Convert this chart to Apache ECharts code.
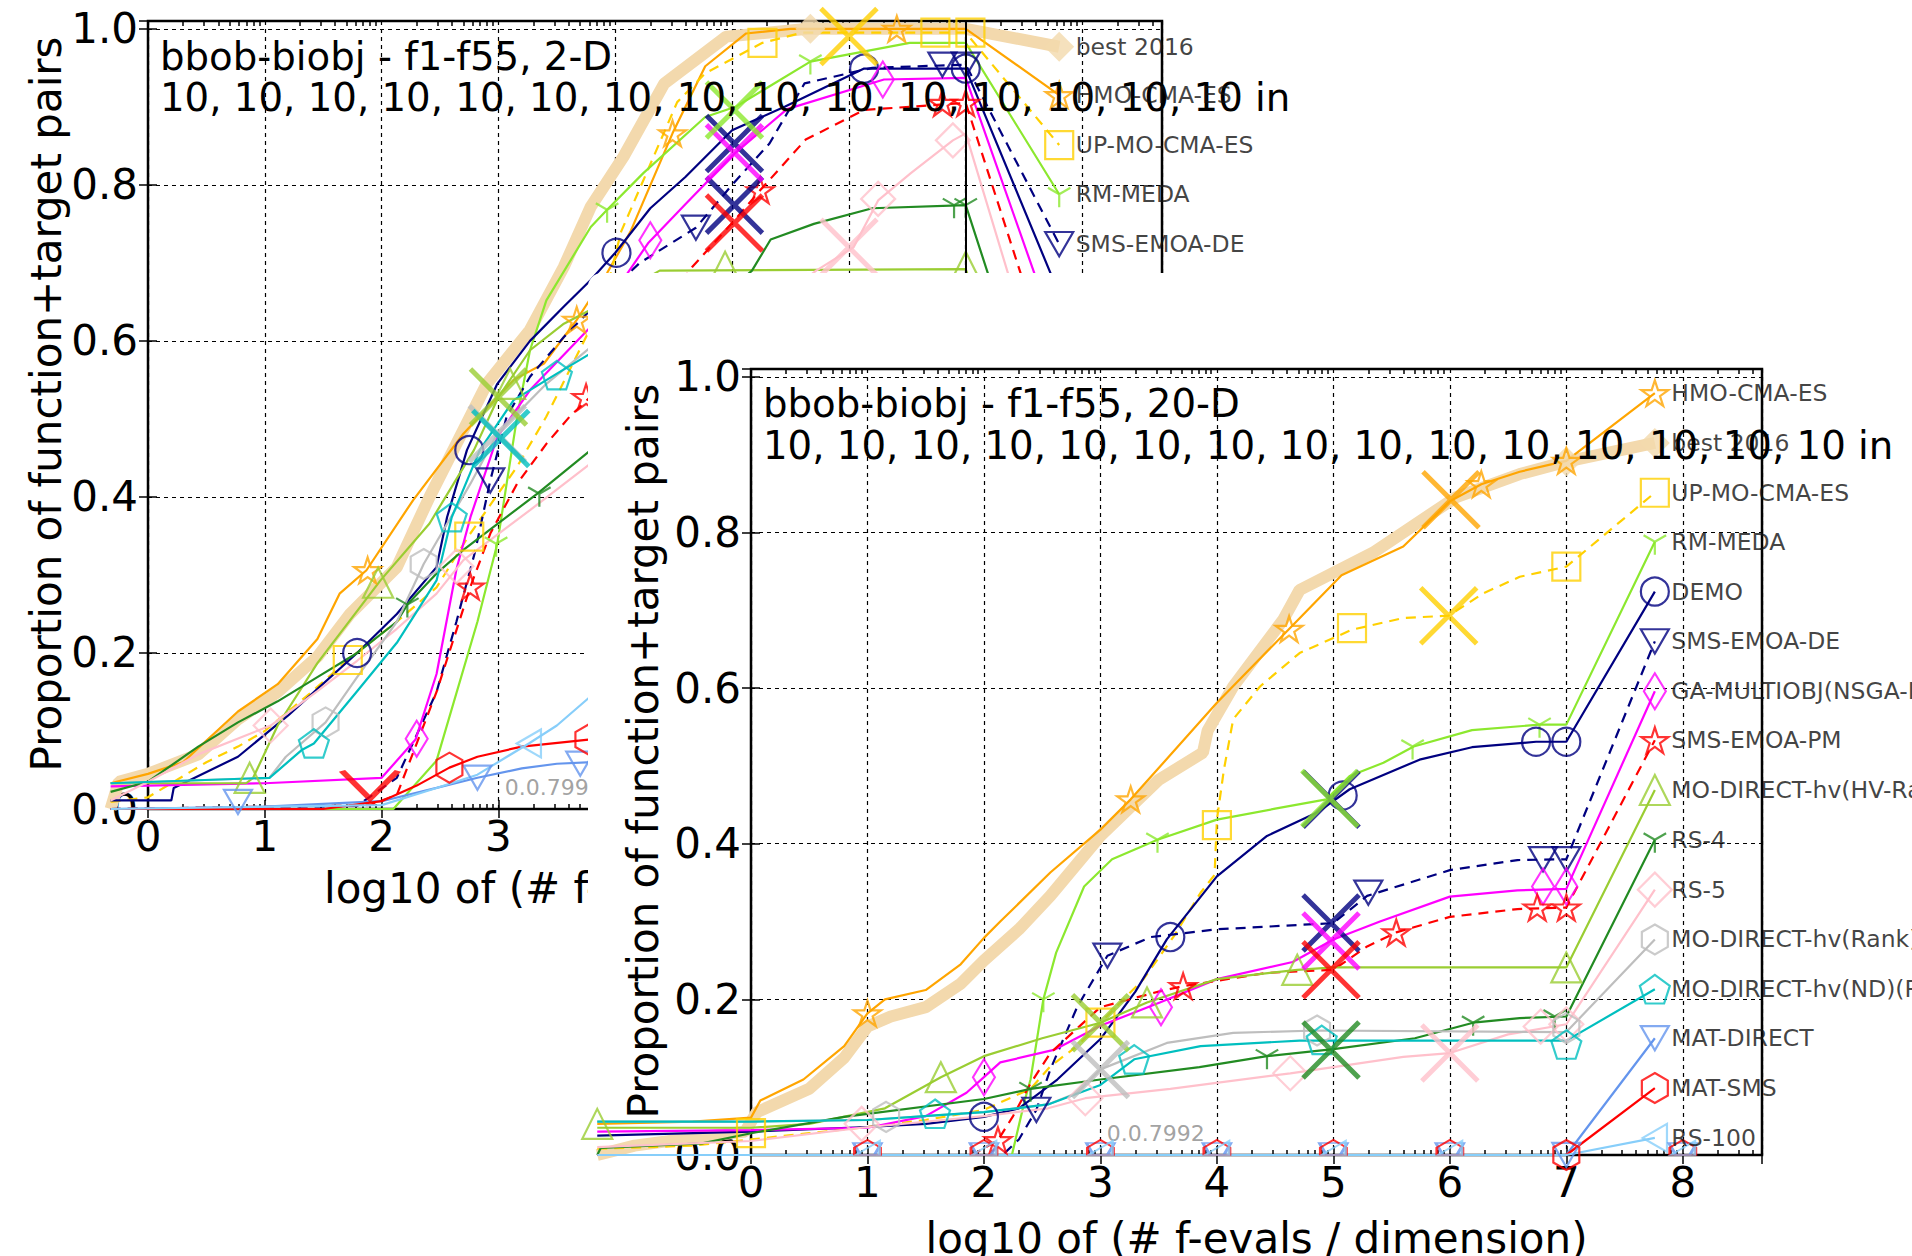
<!DOCTYPE html>
<html>
<head>
<meta charset="utf-8">
<title>bbob-biobj ECDF</title>
<script src="https://cdn.jsdelivr.net/npm/echarts@6.0.0/dist/echarts.min.js"></script>
<style>
  html, body { margin: 0; padding: 0; background: #fff; }
  #chart { width: 1912px; height: 1256px; }
</style>
</head>
<body>
<div id="chart"></div>
<script>
// legend / style order
const algoNames = ['best 2016', 'HMO-CMA-ES', 'UP-MO-CMA-ES', 'RM-MEDA', 'DEMO', 'SMS-EMOA-DE',
  'GA-MULTIOBJ(NSGA-II)', 'SMS-EMOA-PM', 'MO-DIRECT-hv(HV-Rank)', 'RS-4', 'RS-5',
  'MO-DIRECT-hv(Rank)', 'MO-DIRECT-hv(ND)(Rank)', 'MAT-DIRECT', 'MAT-SMS', 'RS-100'];

const title2D = 'bbob-biobj - f1-f55, 2-D';
const title20D = 'bbob-biobj - f1-f55, 20-D';
const countsText = '10, 10, 10, 10, 10, 10, 10, 10, 10, 10, 10, 10, 10, 10, 10 in';
const versionText = '0.0.7992';
const xTicks = [0, 1, 2, 3, 4, 5, 6, 7, 8];
const yTicks = [0, 0.2, 0.4, 0.6, 0.8, 1.0];
// log10(2..9): minor tick offsets inside each decade
const minorTickOffsets = [0.301, 0.477, 0.602, 0.699, 0.778, 0.845, 0.903, 0.954];

// ---------- 20-D : [log10(evals/dim), proportion] ----------
const best20 = [[-1.32,0.0],[-1.0,0.012],[-0.5,0.022],[-0.05,0.03],[0.05,0.055],[0.5,0.085],[0.8,0.125],[1.0,0.165],[1.2,0.178],[1.5,0.19],[1.8,0.22],[2.0,0.25],[2.3,0.29],[2.57,0.333],[3.0,0.41],[3.5,0.482],[3.88,0.517],[3.92,0.545],[4.14,0.602],[4.57,0.688],[4.71,0.726],[5.34,0.774],[6.05,0.845],[6.6,0.875],[7.0,0.891]];
const hmo20 = [[-1.32,0.04],[-0.5,0.043],[0,0.048],[0.08,0.07],[0.45,0.097],[0.8,0.14],[1.0,0.182],[1.15,0.2],[1.5,0.212],[1.8,0.245],[2.0,0.279],[2.14,0.3],[2.57,0.363],[3.0,0.418],[3.26,0.457],[4.0,0.581],[4.62,0.676],[5.07,0.745],[5.6,0.782],[6.0,0.84],[6.27,0.862],[6.6,0.878],[7.0,0.892]];
const upmo20 = [[-1.32,0.008],[-0.5,0.012],[0,0.02],[0.5,0.028],[1.0,0.036],[1.5,0.045],[2.0,0.058],[2.4,0.085],[2.57,0.114],[2.8,0.14],[3.0,0.17],[3.37,0.226],[3.63,0.281],[3.86,0.337],[3.98,0.36],[4.0,0.431],[4.06,0.495],[4.14,0.56],[4.37,0.602],[4.71,0.645],[5.16,0.675],[5.6,0.69],[5.99,0.693],[6.29,0.722],[6.6,0.743],[7.0,0.756]];
const rmmeda20 = [[-1.32,0.0],[2.24,0.0],[2.35,0.07],[2.4,0.097],[2.51,0.2],[2.62,0.26],[2.86,0.345],[3.1,0.38],[3.49,0.405],[4.0,0.431],[4.5,0.445],[4.94,0.457],[5.14,0.487],[5.43,0.504],[5.69,0.525],[6.19,0.546],[6.77,0.553],[7.0,0.553]];
const demo20 = [[-1.32,0.025],[0,0.03],[1.0,0.036],[1.5,0.04],[2.0,0.049],[2.3,0.06],[2.63,0.097],[3.0,0.149],[3.3,0.21],[3.57,0.277],[4.0,0.358],[4.43,0.41],[4.86,0.44],[5.14,0.47],[5.74,0.508],[6.19,0.524],[6.74,0.531],[7.0,0.531]];
const smsde20 = [[-1.32,0.0],[2.16,0.0],[2.3,0.02],[2.45,0.058],[2.57,0.11],[2.8,0.19],[3.06,0.256],[3.43,0.28],[4.0,0.29],[5.0,0.298],[5.29,0.333],[5.74,0.354],[6.0,0.366],[6.58,0.379],[7.0,0.38]];
const ga20 = [[-1.32,0.03],[0,0.032],[1.0,0.035],[1.5,0.05],[1.85,0.08],[2.0,0.1],[2.14,0.119],[2.6,0.135],[3.0,0.166],[3.51,0.196],[4.0,0.226],[4.65,0.248],[5.0,0.277],[5.4,0.3],[6.0,0.332],[6.58,0.34],[7.0,0.342]];
const smspm20 = [[-1.32,0.0],[1.9,0.0],[2.12,0.019],[2.25,0.05],[2.4,0.092],[2.57,0.131],[3.0,0.19],[3.5,0.21],[3.71,0.217],[4.43,0.234],[5.0,0.238],[5.29,0.268],[5.54,0.286],[6.0,0.306],[6.58,0.316],[7.0,0.318]];
const mohv20 = [[-1.32,0.035],[0,0.035],[0.5,0.04],[1.15,0.06],[1.63,0.1],[2.0,0.127],[2.5,0.15],[3.0,0.17],[3.4,0.196],[4.0,0.226],[4.69,0.238],[5.0,0.241],[7.0,0.241]];
const rs4_20 = [[-1.32,0.0],[-1.29,0.009],[-0.42,0.015],[0,0.028],[0.8,0.049],[2.0,0.072],[2.4,0.085],[3.0,0.097],[3.85,0.113],[4.43,0.127],[5.0,0.136],[5.7,0.15],[6.2,0.17],[6.6,0.176],[7.0,0.178]];
const rs5_20 = [[-1.32,0.01],[0,0.018],[0.95,0.035],[2.0,0.05],[2.55,0.06],[2.87,0.073],[3.6,0.085],[4.63,0.105],[5.0,0.113],[5.6,0.126],[6.0,0.131],[6.5,0.155],[7.0,0.168]];
const rank20 = [[-1.32,0.043],[0,0.043],[1.0,0.045],[2.0,0.055],[2.55,0.065],[2.8,0.08],[3.0,0.11],[3.57,0.144],[4.14,0.157],[4.86,0.16],[7.0,0.158]];
const nd20 = [[-1.32,0.043],[0,0.043],[1.0,0.045],[1.58,0.051],[2.0,0.055],[2.55,0.065],[3.0,0.09],[3.29,0.123],[3.86,0.14],[4.71,0.147],[7.0,0.147]];
const matdir20 = [[-1.32,0.0],[7.0,0.0]];
const matsms20 = [[-1.32,0.0],[7.0,0.0]];
const rs100_20 = [[-1.32,0.0],[7.0,0.0]];

// markers on the 20-D curves
const best20Mk = [[7.0,0.891]];
const hmo20Mk = [[1.0,0.182],[3.26,0.457],[4.62,0.676],[6.27,0.862],[7.0,0.892]];
const upmo20Mk = [[0.0,0.028],[3.0,0.17],[4.0,0.424],[5.16,0.677],[7.0,0.756]];
const rmmeda20Mk = [[2.51,0.2],[3.49,0.405],[5.68,0.525],[6.77,0.553]];
const demo20Mk = [[2.0,0.049],[3.6,0.28],[5.08,0.462],[6.74,0.531],[7.0,0.531]];
const smsde20Mk = [[2.45,0.058],[3.06,0.256],[5.3,0.337],[6.8,0.38],[7.0,0.38]];
const ga20Mk = [[2.0,0.1],[3.52,0.19],[6.8,0.345],[7.0,0.345]];
const smspm20Mk = [[2.12,0.019],[3.71,0.217],[5.54,0.286],[6.75,0.318],[7.0,0.318]];
const mohv20Mk = [[-1.32,0.04],[1.63,0.1],[3.4,0.196],[4.69,0.238],[7.0,0.241]];
const rs4_20Mk = [[2.4,0.085],[4.43,0.127],[6.2,0.17],[6.9,0.178]];
const rs5_20Mk = [[0.95,0.04],[2.87,0.073],[4.63,0.105],[6.78,0.165],[7.0,0.168]];
const rank20Mk = [[1.16,0.049],[4.86,0.16],[7.0,0.163]];
const nd20Mk = [[1.58,0.053],[3.29,0.123],[4.9,0.148],[7.0,0.142]];
const matdir20Mk = [[7.0,0.0]];
const matsms20Mk = [[7.0,0.0]];
const rs100_20Mk = [];
// markers sitting on the bottom frame (only their upper half shows)
const bottom20Mk = [[1,0],[2,0],[3,0],[4,0],[5,0],[6,0],[8,0]];

// big crosses: [x, y, algorithm index]
const cross20 = [[6.01,0.842,1],[5.99,0.693,2],[4.98,0.457,4],[4.97,0.458,3],[4.98,0.298,5],[4.98,0.275,6],[4.98,0.238,7],[3.0,0.17,8],[4.98,0.135,9],[6.0,0.131,10],[3.0,0.11,11]];

const leg20X = 7.76;
const leg20Y = [0.915,0.979,0.851,0.788,0.724,0.660,0.596,0.533,0.469,0.405,0.341,0.277,0.213,0.150,0.086,0.022];

// ---------- 2-D ----------
const best2 = [[-0.32,0.0],[-0.25,0.035],[0,0.045],[0.43,0.07],[0.77,0.115],[1.11,0.15],[1.45,0.195],[1.73,0.25],[1.93,0.28],[2.13,0.31],[2.41,0.4],[2.9,0.545],[3.27,0.614],[3.56,0.695],[3.79,0.772],[4.07,0.836],[4.42,0.93],[4.95,0.99],[5.65,1.0],[7.0,1.0]];
const hmo2 = [[-0.32,0.033],[0,0.045],[0.3,0.06],[0.77,0.125],[1.11,0.16],[1.45,0.218],[1.64,0.276],[1.87,0.306],[2.27,0.396],[2.7,0.481],[3.13,0.55],[3.39,0.571],[3.67,0.627],[3.93,0.687],[4.13,0.74],[4.49,0.866],[4.77,0.952],[5.12,0.994],[5.5,1.0],[7.0,1.0]];
const upmo2 = [[-0.32,0.009],[0,0.015],[0.5,0.06],[0.77,0.08],[1.0,0.1],[1.4,0.15],[1.71,0.191],[2.13,0.24],[2.47,0.284],[2.74,0.349],[3.16,0.439],[3.41,0.503],[3.61,0.563],[3.9,0.65],[4.05,0.74],[4.53,0.906],[4.77,0.943],[5.26,0.982],[5.6,0.995],[7.0,0.995]];
const rmmeda2 = [[-0.32,0.0],[2.1,0.0],[2.47,0.062],[2.82,0.24],[2.99,0.34],[3.07,0.417],[3.16,0.503],[3.27,0.588],[3.41,0.652],[3.79,0.746],[3.93,0.768],[4.24,0.815],[4.77,0.887],[5.03,0.9],[5.67,0.958],[6.52,0.982],[7.0,0.982]];
const demo2 = [[-0.32,0.011],[0.2,0.011],[0.22,0.027],[0.77,0.067],[1.2,0.12],[1.79,0.2],[2.13,0.25],[2.47,0.31],[2.56,0.374],[2.73,0.46],[2.99,0.545],[3.27,0.6],[3.56,0.644],[3.79,0.678],[4.0,0.713],[4.3,0.77],[4.6,0.81],[5.0,0.87],[5.45,0.9],[6.13,0.949],[7.0,0.949]];
const smsde2 = [[-0.32,0.0],[1.79,0.004],[2.13,0.04],[2.47,0.15],[2.64,0.24],[2.8,0.33],[2.93,0.421],[3.07,0.503],[3.27,0.554],[3.56,0.605],[3.79,0.64],[4.21,0.70],[4.69,0.745],[5.0,0.8],[5.32,0.853],[5.62,0.93],[6.2,0.95],[7.0,0.954]];
const ga2 = [[-0.32,0.029],[1.0,0.033],[2.0,0.04],[2.29,0.089],[2.47,0.173],[2.64,0.307],[2.76,0.374],[2.99,0.477],[3.27,0.537],[3.79,0.618],[4.28,0.725],[4.6,0.775],[5.02,0.84],[5.47,0.897],[6.3,0.935],[7.0,0.937]];
const smspm2 = [[-0.32,0.0],[1.9,0.005],[2.13,0.018],[2.47,0.15],[2.76,0.285],[2.93,0.353],[3.16,0.417],[3.41,0.468],[3.61,0.503],[3.8,0.53],[4.2,0.6],[4.66,0.695],[5.0,0.751],[5.24,0.793],[5.63,0.858],[6.13,0.896],[7.0,0.905]];
const mohv2 = [[-0.32,0.033],[0.84,0.033],[0.9,0.04],[1.11,0.107],[1.45,0.187],[1.99,0.293],[2.41,0.366],[2.79,0.46],[3.0,0.528],[3.27,0.588],[3.56,0.622],[3.79,0.64],[4.38,0.69],[7.0,0.692]];
const rs4_2 = [[-0.32,0.022],[0,0.035],[0.43,0.08],[0.77,0.111],[1.11,0.138],[1.45,0.169],[1.79,0.2],[2.13,0.24],[2.22,0.262],[2.47,0.302],[2.7,0.332],[3.33,0.404],[3.79,0.46],[4.5,0.6],[5.17,0.69],[5.33,0.73],[5.7,0.75],[6.2,0.77],[7.0,0.774]];
const rs5_2 = [[-0.32,0.011],[0,0.035],[0.43,0.07],[1.05,0.107],[1.45,0.151],[1.79,0.19],[2.13,0.231],[2.47,0.276],[2.7,0.319],[3.27,0.383],[3.79,0.443],[4.6,0.56],[5.72,0.69],[6.04,0.72],[6.25,0.78],[6.53,0.815],[6.89,0.857],[7.0,0.866]];
const rank2 = [[-0.32,0.033],[1.04,0.04],[1.18,0.067],[1.52,0.111],[1.79,0.169],[2.13,0.24],[2.36,0.314],[2.76,0.417],[2.99,0.481],[3.41,0.545],[3.79,0.592],[5.0,0.64],[7.0,0.66]];
const nd2 = [[-0.32,0.033],[1.04,0.04],[1.32,0.076],[1.42,0.084],[1.79,0.151],[2.13,0.213],[2.47,0.293],[2.6,0.374],[2.84,0.46],[3.13,0.524],[3.5,0.558],[3.79,0.584],[5.0,0.62],[7.0,0.64]];
const matdir2 = [[-0.32,0.0],[1.0,0.003],[2.0,0.01],[2.47,0.027],[2.82,0.04],[3.2,0.052],[3.5,0.058],[3.8,0.06],[5.0,0.065],[7.0,0.07]];
const matsms2 = [[-0.32,0.0],[1.5,0.0],[2.0,0.01],[2.3,0.03],[2.58,0.053],[2.82,0.067],[3.2,0.08],[3.77,0.089],[5.0,0.095],[7.0,0.1]];
const rs100_2 = [[-0.32,0.0],[2.0,0.005],[2.47,0.027],[2.82,0.044],[3.26,0.084],[3.5,0.107],[3.77,0.142],[5.0,0.25],[7.0,0.35]];

const best2Mk = [[5.67,1.0]];
const hmo2Mk = [[1.88,0.306],[3.67,0.627],[4.49,0.866],[6.41,1.0]];
const upmo2Mk = [[1.71,0.191],[2.75,0.349],[5.26,0.982],[6.74,0.995],[7.04,0.995]];
const rmmeda2Mk = [[2.98,0.34],[3.93,0.768],[5.67,0.958]];
const demo2Mk = [[1.79,0.2],[2.75,0.46],[4.01,0.713],[6.13,0.949],[7.0,0.949]];
const smsde2Mk = [[2.93,0.421],[4.69,0.745],[6.8,0.954],[7.0,0.954]];
const ga2Mk = [[2.3,0.09],[4.3,0.729],[6.29,0.935]];
const smspm2Mk = [[2.76,0.285],[3.75,0.528],[5.24,0.793],[6.8,0.905],[7.0,0.905]];
const mohv2Mk = [[0.87,0.04],[1.97,0.29],[3.1,0.545],[4.94,0.695],[7.0,0.695]];
const rs4_2Mk = [[2.22,0.262],[3.35,0.404],[6.9,0.774],[7.0,0.774]];
const rs5_2Mk = [[1.05,0.107],[2.64,0.311],[6.25,0.782],[6.89,0.857]];
const rank2Mk = [[1.52,0.111],[2.36,0.314]];
const nd2Mk = [[1.42,0.084],[2.6,0.374],[3.5,0.556]];
const matdir2Mk = [[0.77,0.009],[2.82,0.04],[3.7,0.058]];
const matsms2Mk = [[2.58,0.053],[3.77,0.089]];
const rs100_2Mk = [[3.26,0.084]];

const cross2 = [[5.02,0.853,4],[5.02,0.774,5],[5.02,0.841,6],[5.02,0.751,7],[5.02,0.896,3],[6.0,0.99,2],[6.0,0.72,10],[2.99,0.481,11],[3.02,0.475,12],[3.0,0.528,8]];
const halfCross2 = [[1.9,0.013,14]];

const leg2X = 7.8;
const leg2Y = [0.977,0.915,0.851,0.788,0.660,0.724,0.596,0.533,0.341,0.405,0.469,0.277,0.213,0.022,0.086,0.150];

const lines20 = [best20, hmo20, upmo20, rmmeda20, demo20, smsde20, ga20, smspm20, mohv20, rs4_20, rs5_20, rank20, nd20, matdir20, matsms20, rs100_20];
const marks20 = [best20Mk, hmo20Mk, upmo20Mk, rmmeda20Mk, demo20Mk, smsde20Mk, ga20Mk, smspm20Mk, mohv20Mk, rs4_20Mk, rs5_20Mk, rank20Mk, nd20Mk, matdir20Mk, matsms20Mk, rs100_20Mk];
const lines2 = [best2, hmo2, upmo2, rmmeda2, demo2, smsde2, ga2, smspm2, mohv2, rs4_2, rs5_2, rank2, nd2, matdir2, matsms2, rs100_2];
const marks2 = [best2Mk, hmo2Mk, upmo2Mk, rmmeda2Mk, demo2Mk, smsde2Mk, ga2Mk, smspm2Mk, mohv2Mk, rs4_2Mk, rs5_2Mk, rank2Mk, nd2Mk, matdir2Mk, matsms2Mk, rs100_2Mk];

// ---------- styles ----------
const FONT = 'DejaVu Sans';
const BEIGE = '#F3D9AD';
const algoColor = [BEIGE, '#FFA500', '#FFD000', '#8CE82E', '#000080', '#000080', '#FF00FF', '#FF0000',
  '#9ACD32', '#228B22', '#FFC0CB', '#BEBEBE', '#00BFBF', '#6495ED', '#FF0000', '#87CEFA'];
const algoDash = [false, false, true, false, false, true, false, true, false, false, false, false, false, false, false, false];

const STAR = 'path://M50,0L61.2,34.5L97.6,34.5L68.2,55.9L79.4,90.5L50,69.1L20.6,90.5L31.8,55.9L2.4,34.5L38.8,34.5Z';
const TRI_DOWN = 'path://M0,0L100,0L50,86.6Z';
const TRI_LEFT = 'path://M0,50L86.6,0L86.6,100Z';
const THIN_D = 'path://M30,0L60,50L30,100L0,50Z';
const HEX = 'path://M50,0L93.3,25L93.3,75L50,100L6.7,75L6.7,25Z';
const PENT = 'path://M50,0L97.6,34.5L79.4,90.5L20.6,90.5L2.4,34.5Z';
const TRI_Y = 'path://M50,0M50,50L50,100M50,50L6.7,25M50,50L93.3,25';
const CROSS = 'path://M0,0L100,100M100,0L0,100';
const HALF_CROSS = 'path://M0,0L50,50L100,0';
const TRI_DOWN_TOP = 'path://M0,0L100,0L75,43.3L25,43.3Z';
const HEX_TOP = 'path://M6.7,50L6.7,25L50,0L93.3,25L93.3,50Z';
const TRI_LEFT_TOP = 'path://M0,50L86.6,0L86.6,50Z';

const algoSymbol = ['diamond', STAR, 'rect', TRI_Y, 'circle', TRI_DOWN, THIN_D, STAR, 'triangle', TRI_Y, 'diamond', HEX, PENT, TRI_DOWN, HEX, TRI_LEFT];
const algoSize = [30, 27, 28, 26, 28, 28, [22, 36], 27, 30, 26, 34, 30, 30, 28, 30, 28];

// ---------- layout (pixels) ----------
const XMAX = 8.68;
const frame2 = { left: 148, right: 750, top: 21, bottom: 447 };
const frame20 = { left: 751, right: 150, top: 369, bottom: 101 };
const W = 1912;
const ppu2 = (W - frame2.right - frame2.left) / XMAX;
const ppu20 = (W - frame20.right - frame20.left) / XMAX;
// the curves start left of the frame, so they live on a wider, invisible grid
const data2Left = 100, data20Left = 588;
const xmin2 = -(frame2.left - data2Left) / ppu2;
const xmin20 = -(frame20.left - data20Left) / ppu20;

function buildSeries(ax, lines, marks, legX, legY, crosses, z) {
  const out = [];
  lines.forEach((pts, i) => {
    const s = {
      type: 'line', xAxisIndex: ax, yAxisIndex: ax,
      data: pts.concat([[legX, legY[i]]]),
      symbol: 'none', clip: false, silent: true, animation: false,
      lineStyle: { color: algoColor[i], width: i === 0 ? 12 : 2.2, type: algoDash[i] ? [10, 7] : 'solid' },
      z: z + (i === 0 ? 0 : 1)
    };
    if (i === 0) {
      s.markLine = {
        silent: true, symbol: 'none', label: { show: false }, animation: false,
        lineStyle: { color: '#000', width: 2, type: 'solid' },
        data: [{ xAxis: 7 }]
      };
    }
    out.push(s);
  });
  marks.forEach((pts, i) => {
    out.push({
      type: 'scatter', xAxisIndex: ax, yAxisIndex: ax,
      data: pts.concat([[legX, legY[i]]]),
      symbol: algoSymbol[i], symbolSize: algoSize[i], symbolKeepAspect: !Array.isArray(algoSize[i]),
      clip: false, silent: true, animation: false,
      itemStyle: i === 0
        ? { color: BEIGE, borderWidth: 0 }
        : { color: 'rgba(0,0,0,0)', borderColor: algoColor[i], borderWidth: 2.2 },
      z: z + 2
    });
  });
  out.push({
    type: 'scatter', xAxisIndex: ax, yAxisIndex: ax,
    data: crosses.map(c => ({ value: [c[0], c[1]], itemStyle: { borderColor: algoColor[c[2]] } })),
    symbol: CROSS, symbolSize: 56, clip: false, silent: true, animation: false,
    itemStyle: { color: 'rgba(0,0,0,0)', borderWidth: 5 },
    z: z + 3
  });
  out.push({
    type: 'scatter', xAxisIndex: ax, yAxisIndex: ax,
    data: algoNames.map((n, i) => ({ name: n, value: [legX, legY[i]] })),
    symbolSize: 1, clip: false, silent: true, animation: false,
    itemStyle: { color: 'rgba(0,0,0,0)' },
    label: { show: true, position: 'right', distance: 16, formatter: '{b}', fontSize: 23.5, fontFamily: FONT, color: '#111' },
    z: z + 4
  });
  out.push({
    type: 'scatter', xAxisIndex: ax, yAxisIndex: ax,
    data: [{ name: versionText, value: [3.05, 0.028] }],
    symbolSize: 1, clip: false, silent: true, animation: false,
    itemStyle: { color: 'rgba(0,0,0,0)' },
    label: { show: true, position: 'right', distance: 0, formatter: '{b}', fontSize: 22, fontFamily: FONT, color: '#8a8a8a' },
    z: z + 1
  });
  return out;
}

// axis indices: 0..3 frames (2-D bottom/top, 20-D bottom/top), 4 = 2-D data, 5 = 20-D data, 6.. minor ticks
const series = []
  .concat(buildSeries(4, lines2, marks2, leg2X, leg2Y, cross2, 1))
  .concat([{
    type: 'scatter', xAxisIndex: 4, yAxisIndex: 4,
    data: halfCross2.map(c => ({ value: [c[0], c[1]], itemStyle: { borderColor: algoColor[c[2]] } })),
    symbol: HALF_CROSS, symbolSize: [56, 28], symbolKeepAspect: false, symbolOffset: [0, -14],
    clip: false, silent: true, animation: false,
    itemStyle: { color: 'rgba(0,0,0,0)', borderWidth: 5 }, z: 4
  }])
  .concat(buildSeries(5, lines20, marks20, leg20X, leg20Y, cross20, 22))
  .concat([
    [13, TRI_DOWN_TOP, [28, 12], -6],
    [14, HEX_TOP, [26, 15], -7.5],
    [15, TRI_LEFT_TOP, [24, 14], -7]
  ].map(b => ({
    type: 'scatter', xAxisIndex: 5, yAxisIndex: 5,
    data: bottom20Mk,
    symbol: b[1], symbolSize: b[2], symbolKeepAspect: false, symbolOffset: [0, b[3]],
    clip: false, silent: true, animation: false,
    itemStyle: { color: 'rgba(0,0,0,0)', borderColor: algoColor[b[0]], borderWidth: 2.2 },
    z: 24
  })));

const tickStyle = len => ({ show: true, inside: true, length: len, lineStyle: { color: '#000', width: 1.5 } });
const nameStyle = { fontSize: 42, fontFamily: FONT, color: '#000' };

function xAxisPair(grid, z, nameGap) {
  const base = { gridIndex: grid, type: 'value', min: 0, max: XMAX, interval: 1, z: z };
  return [
    Object.assign({}, base, {
      position: 'bottom',
      axisLine: { show: false },
      axisTick: tickStyle(9),
      axisLabel: {
        show: true, fontSize: 42, fontFamily: FONT, color: '#000', margin: 6, showMaxLabel: false,
        formatter: v => (xTicks.indexOf(v) >= 0 ? String(v) : '')
      },
      splitLine: { show: true, lineStyle: { color: '#000', width: 1.2, type: [4, 4] } },
      name: 'log10 of (# f-evals / dimension)', nameLocation: 'middle', nameGap: nameGap,
      nameMoveOverlap: false, nameTextStyle: nameStyle
    }),
    Object.assign({}, base, {
      position: 'top', axisLine: { show: false }, axisTick: tickStyle(9),
      axisLabel: { show: false }, splitLine: { show: false }
    })
  ];
}
function yAxisPair(grid, z, nameGap) {
  const base = { gridIndex: grid, type: 'value', min: 0, max: 1.01, interval: 0.2, z: z };
  return [
    Object.assign({}, base, {
      position: 'left',
      axisLine: { show: false },
      axisTick: tickStyle(9),
      axisLabel: {
        show: true, fontSize: 42, fontFamily: FONT, color: '#000', margin: 10, showMaxLabel: false,
        formatter: v => (yTicks.some(t => Math.abs(t - v) < 1e-6) ? v.toFixed(1) : '')
      },
      splitLine: { show: true, lineStyle: { color: '#000', width: 1.2, type: [4, 4] } },
      name: 'Proportion of function+target pairs', nameLocation: 'middle', nameGap: nameGap, nameRotate: 90,
      nameMoveOverlap: false,
      // nudge the rotated name a little above the axis centre, as in the original
      nameTextStyle: Object.assign({ padding: [0, 0, 0, 22] }, nameStyle)
    }),
    Object.assign({}, base, {
      position: 'right', axisLine: { show: false }, axisTick: tickStyle(9),
      axisLabel: { show: false }, splitLine: { show: false }
    })
  ];
}
function hiddenAxis(grid, min, max) {
  return { gridIndex: grid, type: 'value', min: min, max: max, show: false, splitLine: { show: false } };
}

const grids = [
  Object.assign({ show: true, borderColor: '#000', borderWidth: 2.5, backgroundColor: 'rgba(0,0,0,0)',
    containLabel: false, outerBoundsMode: 'none', z: 0 }, frame2),
  Object.assign({ show: true, borderColor: '#000', borderWidth: 2.5, backgroundColor: 'rgba(0,0,0,0)',
    containLabel: false, outerBoundsMode: 'none', z: 21 }, frame20),
  { left: data2Left, right: frame2.right, top: frame2.top, bottom: frame2.bottom, show: false, containLabel: false, outerBoundsMode: 'none' },
  { left: data20Left, right: frame20.right, top: frame20.top, bottom: frame20.bottom, show: false, containLabel: false, outerBoundsMode: 'none' }
];
const xAxes = xAxisPair(0, 0, 58).concat(xAxisPair(1, 21, 62)).concat([hiddenAxis(2, xmin2, XMAX), hiddenAxis(3, xmin20, XMAX)]);
const yAxes = yAxisPair(0, 0, 81).concat(yAxisPair(1, 21, 87)).concat([hiddenAxis(2, 0, 1.01), hiddenAxis(3, 0, 1.01)]);

// minor (log-spaced) ticks on the top and bottom frame edges
[[frame2, ppu2, 0], [frame20, ppu20, 21]].forEach(([fr, ppu, z]) => {
  minorTickOffsets.forEach(off => {
    const g = grids.length;
    grids.push({ left: fr.left + off * ppu, right: fr.right, top: fr.top, bottom: fr.bottom,
      show: false, containLabel: false, outerBoundsMode: 'none' });
    ['bottom', 'top'].forEach(pos => {
      xAxes.push({ gridIndex: g, type: 'value', min: off, max: XMAX, interval: 1, position: pos, z: z,
        axisLine: { show: false }, axisLabel: { show: false }, splitLine: { show: false },
        axisTick: tickStyle(5) });
    });
    yAxes.push(hiddenAxis(g, 0, 1.01));
  });
});

const chart = echarts.init(document.getElementById('chart'), null, { renderer: 'svg' });
chart.setOption({
  animation: false,
  backgroundColor: '#fff',
  textStyle: { fontFamily: FONT },
  grid: grids,
  xAxis: xAxes,
  yAxis: yAxes,
  graphic: [
    { type: 'text', x: 160, y: 56, z: 5, silent: true,
      style: { text: title2D, fontSize: 38.7, fontFamily: FONT, fill: '#000', verticalAlign: 'middle' } },
    { type: 'text', x: 160, y: 97, z: 5, silent: true,
      style: { text: countsText, fontSize: 38.7, fontFamily: FONT, fill: '#000', verticalAlign: 'middle' } },
    { type: 'rect', z: 20, silent: true,
      shape: { x: 588, y: 273, width: 1324, height: 983, r: [14, 0, 0, 0] },
      style: { fill: '#fff' } },
    { type: 'text', x: 763, y: 403, z: 30, silent: true,
      style: { text: title20D, fontSize: 38.7, fontFamily: FONT, fill: '#000', verticalAlign: 'middle' } },
    { type: 'text', x: 763, y: 445, z: 30, silent: true,
      style: { text: countsText, fontSize: 38.7, fontFamily: FONT, fill: '#000', verticalAlign: 'middle' } }
  ],
  series: series
});
</script>
</body>
</html>
